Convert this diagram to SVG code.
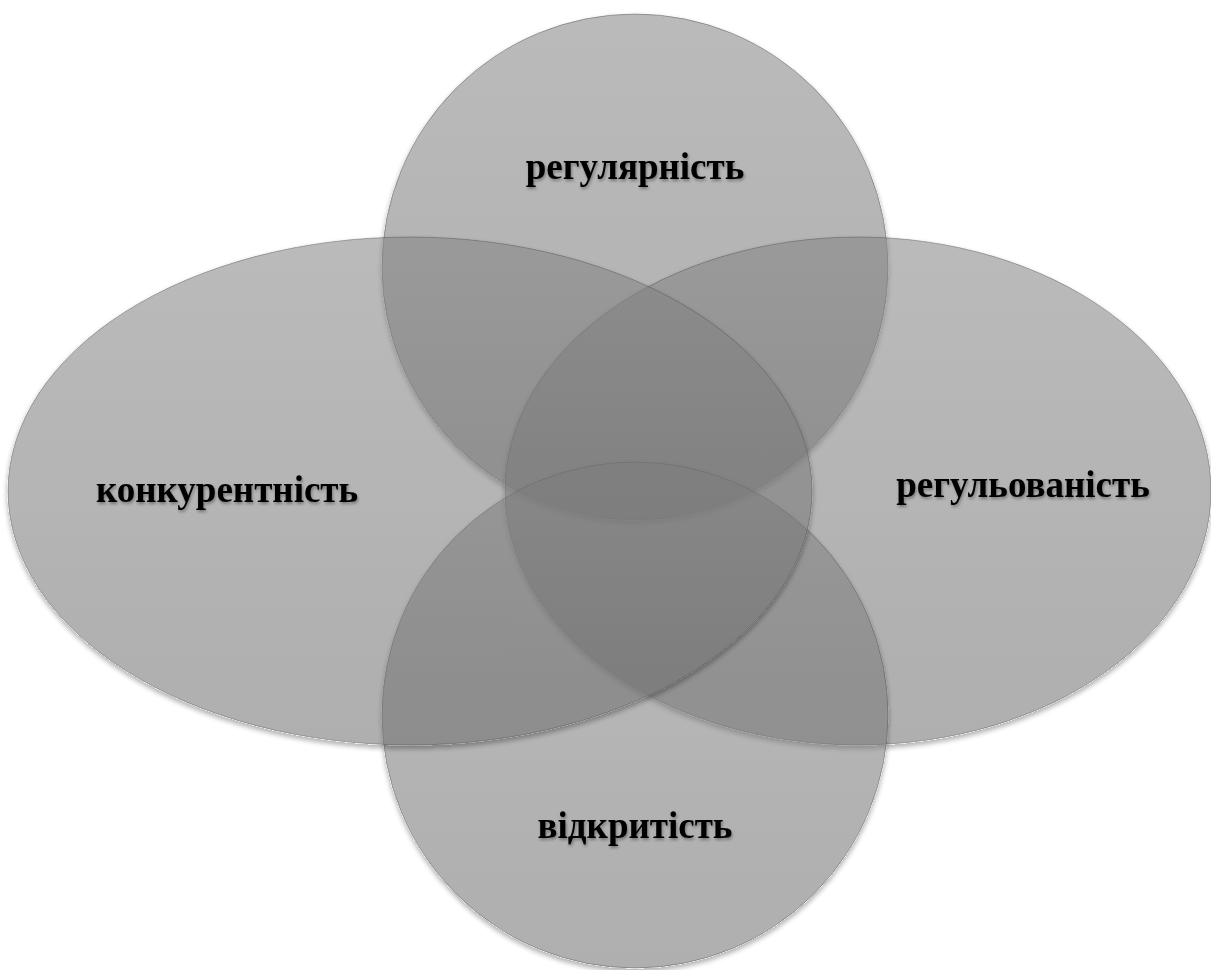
<svg xmlns="http://www.w3.org/2000/svg" width="1211" height="970" viewBox="0 0 1211 970">
  <defs>
    <!-- shared fill: grey, slightly darker toward the bottom -->
    <linearGradient id="petalFill" x1="0" y1="0" x2="0" y2="1">
      <stop offset="0" stop-color="#828282"/>
      <stop offset="1" stop-color="#6c6c6c"/>
    </linearGradient>
    <!-- soft shadow that stays outside each shape -->
    <filter id="outerShade" x="-5%" y="-5%" width="110%" height="115%">
      <feColorMatrix in="SourceAlpha" type="matrix" values="0 0 0 0 0  0 0 0 0 0  0 0 0 0 0  0 0 0 20 0" result="solid"/>
      <feGaussianBlur in="solid" stdDeviation="2.5"/>
      <feOffset dx="0" dy="3" result="blurred"/>
      <feComponentTransfer in="blurred" result="faint">
        <feFuncA type="linear" slope="0.3"/>
      </feComponentTransfer>
      <feComposite in="faint" in2="solid" operator="out" result="shade"/>
      <feMerge>
        <feMergeNode in="shade"/>
        <feMergeNode in="SourceGraphic"/>
      </feMerge>
    </filter>
    <filter id="textShade" x="-10%" y="-30%" width="120%" height="160%">
      <feDropShadow dx="1" dy="2" stdDeviation="1.5" flood-color="#000" flood-opacity="0.35"/>
    </filter>
  </defs>
  <style>
    .petal { fill: url(#petalFill); fill-opacity: 0.55; stroke: #4a4a4a; stroke-opacity: 0.45; stroke-width: 1; filter: url(#outerShade); }
    .label { font-family: "Liberation Serif", "Times New Roman", serif; font-weight: bold; font-size: 37px; fill: #000; text-anchor: middle; filter: url(#textShade); }
  </style>
  <rect x="0" y="0" width="1211" height="970" fill="#ffffff"/>

  <g id="node-top">
    <circle class="petal" cx="635" cy="267" r="253"/>
    <text class="label" x="635" y="179">регулярність</text>
  </g>

  <g id="node-right">
    <ellipse class="petal" cx="858" cy="491" rx="353" ry="254"/>
    <text class="label" x="1023" y="497">регульованість</text>
  </g>

  <g id="node-bottom">
    <circle class="petal" cx="635" cy="715" r="253"/>
    <text class="label" x="635" y="838">відкритість</text>
  </g>

  <g id="node-left">
    <ellipse class="petal" cx="410" cy="491" rx="402" ry="254"/>
    <text class="label" x="227" y="502">конкурентність</text>
  </g>

  <g id="connectors"/>
</svg>
